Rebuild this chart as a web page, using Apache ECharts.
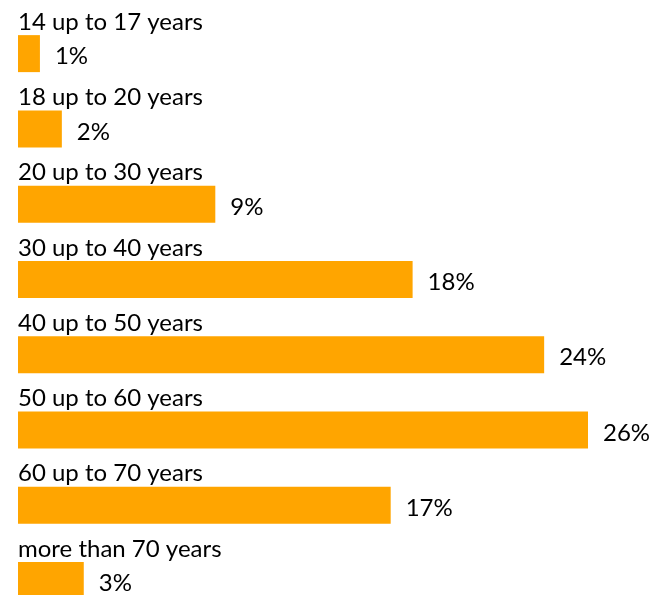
<!DOCTYPE html>
<html>
<head>
<meta charset="utf-8">
<script src="https://cdn.jsdelivr.net/npm/echarts@6/dist/echarts.min.js"></script>
<style>
html,body{margin:0;padding:0;background:#fff;overflow:hidden;}
#chart{width:655px;height:618px;}
</style>
</head>
<body>
<div id="chart"></div>
<script>
const categories = ["14 up to 17 years","18 up to 20 years","20 up to 30 years","30 up to 40 years","40 up to 50 years","50 up to 60 years","60 up to 70 years","more than 70 years"];
const shares = [1, 2, 9, 18, 24, 26, 17, 3];

const chart = echarts.init(document.getElementById('chart'), null, {renderer: 'canvas'});
const FONT = 'Lato';
chart.setOption({
  animation: false,
  backgroundColor: '#ffffff',
  grid: {left: 18, top: 16, right: 67, bottom: 0, containLabel: false},
  xAxis: {type: 'value', min: 0, max: 26, show: false},
  yAxis: {type: 'category', data: categories, inverse: true, show: false},
  series: [
    {
      type: 'bar',
      data: shares,
      barWidth: 37,
      itemStyle: {color: '#FFA500'},
      label: {
        show: true,
        position: 'right',
        distance: 15,
        offset: [0, 3],
        formatter: p => p.value + '%',
        fontFamily: FONT,
        fontSize: 24,
        color: '#000'
      },
      z: 2
    },
    {
      type: 'bar',
      data: shares,
      barWidth: 37,
      barGap: '-100%',
      itemStyle: {color: 'rgba(0,0,0,0)'},
      label: {
        show: true,
        position: [0, -1],
        align: 'left',
        verticalAlign: 'bottom',
        formatter: p => p.name,
        fontFamily: FONT,
        fontSize: 24,
        color: '#000'
      },
      z: 3
    }
  ]
});
</script>
</body>
</html>
